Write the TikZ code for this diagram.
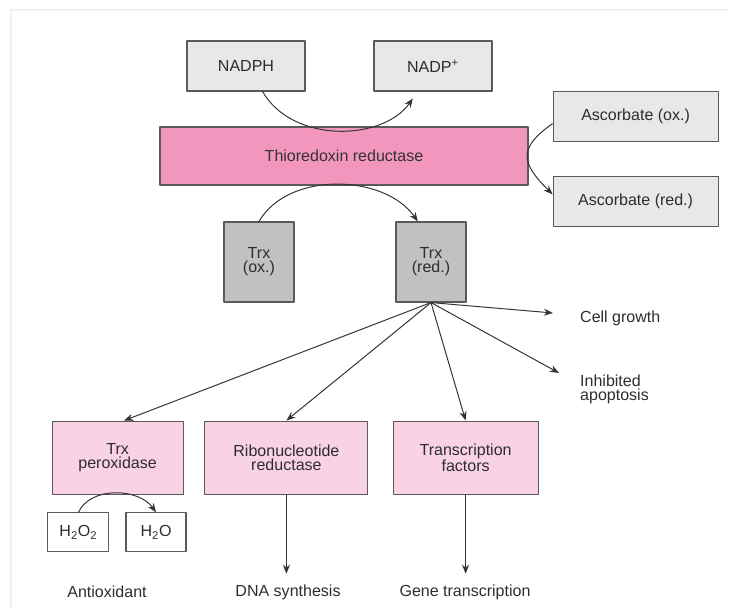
\documentclass[tikz,border=0pt]{standalone}
\usepackage{fontspec}
\setmainfont{Liberation Sans}
\usetikzlibrary{arrows.meta}
\definecolor{boxgray}{RGB}{232,232,232}
\definecolor{trxgray}{RGB}{193,193,193}
\definecolor{hotpink}{RGB}{243,150,190}
\definecolor{palepink}{RGB}{249,211,229}
\definecolor{edgegray}{RGB}{90,90,90}
\definecolor{inkgray}{RGB}{45,45,45}
\begin{document}
\begin{tikzpicture}[line join=round, line cap=round,>={Stealth[length=6.5pt,width=5pt]},line width=0.7pt]
			\tikzset{every node/.style={font=\fontsize{11.4}{10}\selectfont,text=inkgray,align=center},
				box/.style={draw=edgegray,line width=0.8pt,inner sep=0pt},
				sized/.style 2 args={minimum width=#1cm,minimum height=#2cm},
				link/.style={->,draw=black!80}}
			\useasboundingbox (0,0) rectangle (18.225,15.2);
			\draw[gray!12,line width=1pt] (0.275,0) -- (0.275,14.95) -- (18.225,14.95);
			\node[box,fill=boxgray,sized={2.95}{1.25}] (nadph) at (6.15,13.55) {NADPH};
			\node[box,fill=boxgray,sized={2.95}{1.25}] (nadp) at (10.825,13.55) {NADP\textsuperscript{+}};
			\node[box,fill=hotpink,sized={9.2}{1.45},text=black!80] (trr) at (8.6,11.3) {Thioredoxin reductase};
			\node[box,fill=boxgray,sized={4.125}{1.25}] (ascox) at (15.89,12.29) {Ascorbate (ox.)};
			\node[box,fill=boxgray,sized={4.125}{1.25}] (ascred) at (15.89,10.16) {Ascorbate (red.)};
			\node[box,fill=trxgray,sized={1.75}{2}] (trxox) at (6.475,8.65) {Trx\\(ox.)};
			\node[box,fill=trxgray,sized={1.75}{2}] (trxred) at (10.775,8.65) {Trx\\(red.)};
			\node[box,fill=palepink,sized={3.275}{1.825}] (trxper) at (2.94,3.76) {Trx\\peroxidase};
			\node[box,fill=palepink,sized={4.075}{1.825}] (rnr) at (7.16,3.76) {Ribonucleotide\\reductase};
			\node[box,fill=palepink,sized={3.625}{1.825}] (tf) at (11.64,3.76) {Transcription\\factors};
			\node[box,fill=white,sized={1.525}{0.975}] (hhoo) at (1.96,1.89) {H\textsubscript{2}O\textsubscript{2}};
			\node[box,fill=white,sized={1.5}{0.975}] (hho) at (3.9,1.89) {H\textsubscript{2}O};
			\node[anchor=west,align=left] (growth) at (14.375,7.25) {Cell growth};
			\node[anchor=west,align=left] (apop) at (14.375,5.475) {Inhibited\\apoptosis};
			\node (antiox) at (2.675,0.4) {Antioxidant};
			\node (dna) at (7.2,0.4) {DNA synthesis};
			\node (gene) at (11.625,0.4) {Gene transcription};
			\coordinate (growthtip) at (13.825,7.375);
			\coordinate (apoptip) at (13.975,5.875);
			\draw[link,shorten >=6pt] (nadph.-57) to[out=-60,in=-125,looseness=1] (nadp.-121);
			\draw[link] (trxox.north) to[out=60,in=125,looseness=0.94] (trxred.108);
			\draw[link] (ascox.185) to[out=215,in=135,looseness=1.58] (ascred.175);
			\draw[link] (hhoo.north) to[out=65,in=125,looseness=0.97] (hho.north);
			\foreach \t in {trxper.80,rnr.north,tf.north,growthtip,apoptip}
			\draw[link] (trxred.south) -- (\t);
			\draw[link] (rnr.south) -- ([yshift=4pt]rnr.south |- dna.north);
			\draw[link] (tf.south) -- ([yshift=4pt]tf.south |- gene.north);
\end{tikzpicture}
\end{document}
